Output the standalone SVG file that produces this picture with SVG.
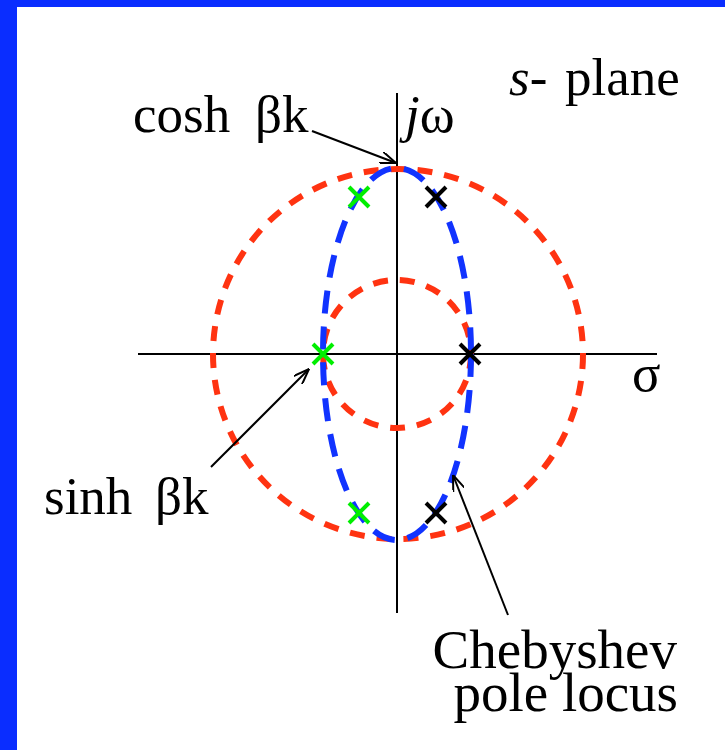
<svg xmlns="http://www.w3.org/2000/svg" width="725" height="750" viewBox="0 0 725 750">
<style>
.t{font-family:"Liberation Serif","Times New Roman",serif;font-size:53px;fill:#000}
.c{font-size:55px}
.i{font-style:italic}
.ax{stroke:#000;stroke-width:2;fill:none}
.red{fill:none;stroke:#ff3311;stroke-width:6;stroke-dasharray:15 12}
.blue{fill:none;stroke:#1133ff;stroke-width:6;stroke-dasharray:23 13}
.pg{stroke:#00ee00;stroke-width:4;fill:none}
.pb{stroke:#000;stroke-width:4;fill:none}
.ar{stroke:#000;stroke-width:2;fill:none;marker-end:url(#ah)}
</style>
<defs>
<marker id="ah" viewBox="0 0 16 12" refX="16" refY="6" markerWidth="16" markerHeight="12" markerUnits="userSpaceOnUse" orient="auto">
<path d="M0,0 L16,6 L0,12" fill="none" stroke="#000" stroke-width="2"/>
</marker>
<path id="x" d="M-10,-10 L10,10 M-10,10 L10,-10"/>
</defs>
<rect x="0" y="0" width="725" height="750" fill="#fff"/>
<rect x="0" y="0" width="725" height="7" fill="#0a2dff"/>
<rect x="0" y="0" width="17" height="750" fill="#0a2dff"/>
<g id="axes">
<line class="ax" x1="138" y1="354" x2="657" y2="354"/>
<line class="ax" x1="397" y1="93" x2="397" y2="613"/>
</g>
<g id="circles">
<circle id="outer-circle" class="red" cx="398" cy="354" r="185"/>
<circle id="inner-circle" class="red" cx="397" cy="354" r="74"/>
<ellipse id="pole-locus" class="blue" cx="397" cy="354" rx="74" ry="186"/>
</g>
<g id="poles">
<use href="#x" class="pg" x="359" y="197"/>
<use href="#x" class="pg" x="323" y="354"/>
<use href="#x" class="pg" x="359" y="513"/>
<use href="#x" class="pb" x="436" y="197"/>
<use href="#x" class="pb" x="470" y="354"/>
<use href="#x" class="pb" x="436" y="513"/>
</g>
<g id="connectors">
<line class="ar" x1="312" y1="131" x2="396" y2="163"/>
<line class="ar" x1="211" y1="467" x2="309" y2="369"/>
<line class="ar" x1="508" y1="615" x2="453" y2="475"/>
</g>
<g id="labels">
<text class="t" x="133" y="132">cosh<tspan x="255">βk</tspan></text>
<text class="t" x="405" y="132"><tspan class="i">j</tspan>ω</text>
<text class="t" x="509" y="95"><tspan class="i">s</tspan>-<tspan x="565">plane</tspan></text>
<text class="t" x="632" y="391">σ</text>
<text class="t" x="44" y="514">sinh<tspan x="155">βk</tspan></text>
<text class="t c" x="677" y="668" text-anchor="end">Chebyshev</text>
<text class="t c" x="678" y="711" text-anchor="end">pole locus</text>
</g>
</svg>
